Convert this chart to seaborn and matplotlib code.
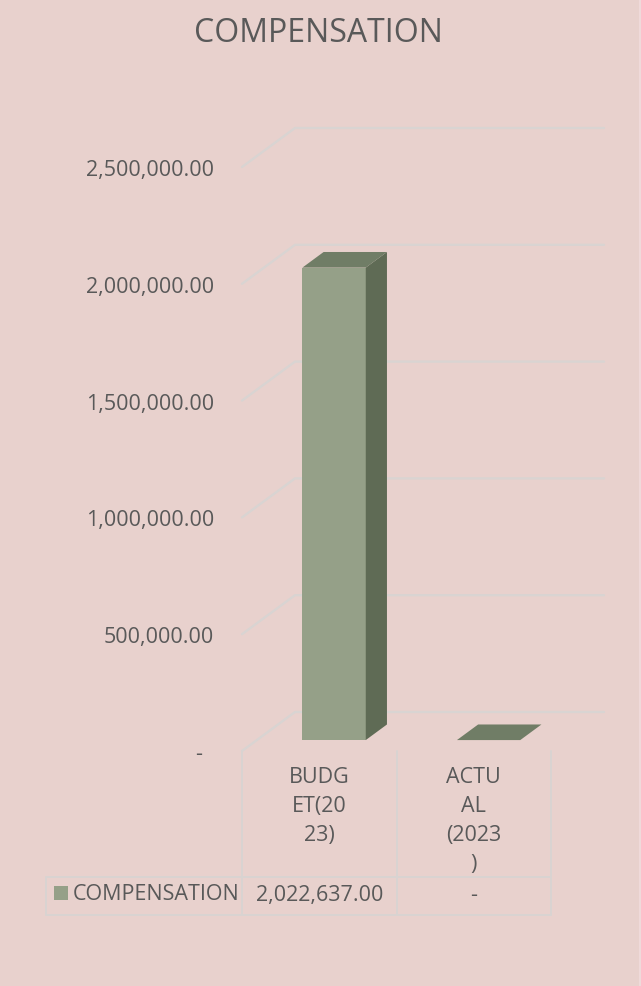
import matplotlib
matplotlib.use("Agg")
import matplotlib.pyplot as plt
import seaborn as sns
import pandas as pd
import numpy as np
from matplotlib.patches import Polygon, Rectangle
from matplotlib.lines import Line2D

# data
categories = ["BUDGET(2023)", "ACTUAL (2023)"]
category_labels = ["BUDG\nET(20\n23)", "ACTU\nAL\n(2023\n)"]
values = [2022637.00, 0.0]
series_name = "COMPENSATION"
y_ticks = [0, 500000, 1000000, 1500000, 2000000, 2500000]

W, H = 641, 987
BG = "#E8D1CD"
GRID = "#D9D4D2"
TEXT = "#595959"
FRONT = "#95A088"
SIDE = "#5F6B55"
TOP = "#707D66"
FS = 15.5

# 3D look: floor depth in pixels, bar sits between these depth fractions
DEPTH_DX, DEPTH_DY = 53, 39
BAR_D0, BAR_D1 = 0.28, 0.68


def fmt(v):
    return "-  " if v == 0 else f"{v:,.2f}"


sns.set_theme(style="white")
plt.rcParams["font.family"] = ["Open Sans", "DejaVu Sans"]

fig = plt.figure(figsize=(W / 100, H / 100), dpi=100)
fig.patch.set_facecolor(BG)
ax = fig.add_axes([242 / W, 235 / H, 309 / W, 584 / H])
ax.set_facecolor("none")

df = pd.DataFrame({"category": categories, "value": values})
sns.barplot(data=df, x="category", y="value", color=FRONT, width=0.41,
            saturation=1, ax=ax, zorder=3)
ax.set_xlim(-0.5, 1.5)
ax.set_ylim(0, 2500000)


def proj(x, y, d):
    p = ax.transData.transform((x, y)) + np.array([d * DEPTH_DX, d * DEPTH_DY])
    return ax.transData.inverted().transform(p)


# gridlines on side wall + back wall
for v in y_ticks:
    pts = np.array([proj(-0.5, v, 0), proj(-0.5, v, 1), proj(1.5, v, 1)])
    ax.add_line(Line2D(pts[:, 0], pts[:, 1], color=GRID, lw=1.7,
                       clip_on=False, zorder=1))

# push bars back to their depth and add side/top faces
shift = proj(0, 0, BAR_D0) - proj(0, 0, 0)
for patch in ax.patches[:len(values)]:
    x0 = patch.get_x()
    h = patch.get_height()
    x1 = x0 + patch.get_width()
    patch.set_x(x0 + shift[0])
    patch.set_y(shift[1])
    patch.set_edgecolor("none")
    patch.set_clip_on(False)
    side = [proj(x1, 0, BAR_D0), proj(x1, 0, BAR_D1), proj(x1, h, BAR_D1), proj(x1, h, BAR_D0)]
    top = [proj(x0, h, BAR_D0), proj(x1, h, BAR_D0), proj(x1, h, BAR_D1), proj(x0, h, BAR_D1)]
    if h > 0:
        ax.add_patch(Polygon(side, closed=True, facecolor=SIDE, edgecolor="none",
                             clip_on=False, zorder=3))
    ax.add_patch(Polygon(top, closed=True, facecolor=TOP, edgecolor="none",
                         clip_on=False, zorder=3))

ax.set_yticks(y_ticks)
ax.set_yticklabels([fmt(v) for v in y_ticks])
ax.tick_params(axis="y", length=0, pad=20, labelsize=FS, labelcolor=TEXT)
ax.tick_params(axis="x", length=0, labelbottom=False)
ax.set_xlabel("")
ax.set_ylabel("")
for s in ax.spines.values():
    s.set_visible(False)


# figure pixel helpers (origin top-left)
def fx(px):
    return px / W


def fy(py):
    return 1 - py / H


def fline(x0, y0, x1, y1, color=GRID, lw=1.4):
    fig.add_artist(Line2D([fx(x0), fx(x1)], [fy(y0), fy(y1)], color=color, lw=lw,
                          transform=fig.transFigure))


# title
fig.text(fx(318), fy(33), "COMPENSATION", ha="center", va="center",
         fontsize=23, color=TEXT)

# data table
col_edges = [ax.transData.transform((e, 0))[0] for e in (-0.5, 0.5, 1.5)]
col_mid = [ax.transData.transform((i, 0))[0] for i in range(len(categories))]
top_y, mid_y, bot_y, leg_x = 752, 878, 916, 46
for xe in col_edges:
    fline(xe, top_y, xe, bot_y)
fline(leg_x, mid_y, col_edges[-1], mid_y)
fline(leg_x, bot_y, col_edges[-1], bot_y)
fline(leg_x, mid_y, leg_x, bot_y)

for xm, lab, v in zip(col_mid, category_labels, values):
    fig.text(fx(xm), fy(767), lab, ha="center", va="top", fontsize=FS,
             color=TEXT, linespacing=1.5)
    fig.text(fx(xm), fy(896), fmt(v).strip(), ha="center", va="center",
             fontsize=FS, color=TEXT)

fig.add_artist(Rectangle((fx(54), fy(901)), 14 / W, 14 / H, facecolor=FRONT,
                         edgecolor="none", transform=fig.transFigure))
fig.text(fx(73), fy(895), series_name, ha="left", va="center", fontsize=FS,
         color=TEXT)

# light right edge of chart area
fline(639.5, 0, 639.5, H, color="#F1DCDD", lw=1.2)

fig.savefig("out.png", dpi=100, facecolor=BG)
